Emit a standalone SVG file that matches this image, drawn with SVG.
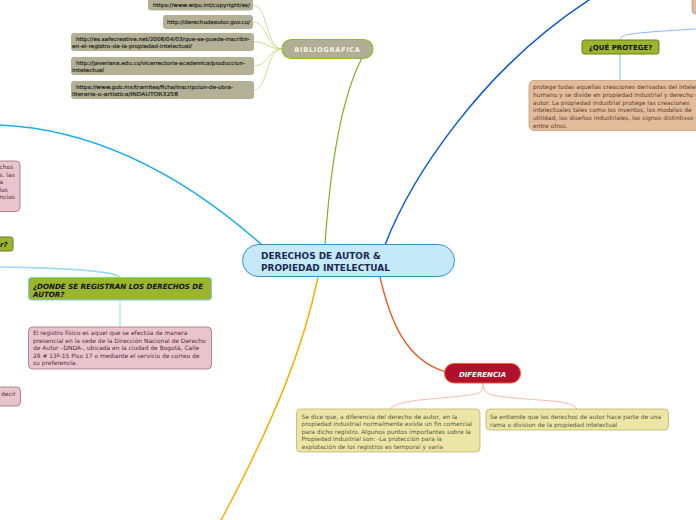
<svg xmlns="http://www.w3.org/2000/svg" width="696" height="520" viewBox="0 0 696 520">
<style>
  .f { font-family: "DejaVu Sans", Verdana, sans-serif; }
  .link rect { fill: #b3b096; }
  .link text { font-size: 5.3px; font-weight: normal; fill: #222219; stroke: #222219; stroke-width: 0.15; }
  .olive { fill: #9bb52c; stroke: #6b7d1c; stroke-width: 1; }
  .pink rect { fill: #e8c5cc; stroke: #a46b7a; stroke-width: 0.8; }
  .pink text { fill: #5a2c3c; font-size: 5.95px; stroke: none; }
  .yel { fill: #ebe5a6; stroke: #bdb56c; stroke-width: 0.8; }
  .ytext { fill: #5c5a36; font-size: 5.95px; }
  .conn path { fill: none; }
</style>
<rect width="696" height="520" fill="#ffffff"/>

<g id="connectors" class="conn">
  <path d="M325,245 C330,170 340,100 362,58" stroke="#7fb21e" stroke-width="1.2"/>
  <path d="M385,245 C410,180 480,70 592,-2" stroke="#0b5cd2" stroke-width="1.5"/>
  <path d="M262,245 C200,190 110,130 0,125" stroke="#1aaef0" stroke-width="1.5"/>
  <path d="M318,277 C305,340 280,410 220,522" stroke="#ffad00" stroke-width="1.5"/>
  <path d="M380,277 C390,320 405,360 446,372" stroke="#f0541e" stroke-width="1.3"/>
  <g stroke="#bcd97e" stroke-width="0.8">
    <path d="M282,49 C266,49 268,5 253,5"/>
    <path d="M282,49 C266,49 268,22 253,22"/>
    <path d="M282,49 C268,49 268,42 254,42"/>
    <path d="M282,49 C268,49 268,66 254,66"/>
    <path d="M282,49 C266,49 268,90 254,90"/>
  </g>
  <path d="M620,40 C620,34 630,33 696,29" stroke="#8db6ea" stroke-width="1"/>
  <path d="M620,54 L620,80" stroke="#8db6ea" stroke-width="1"/>
  <path d="M0,267 C60,268 110,270 120,277" stroke="#9bd9f2" stroke-width="1.4"/>
  <path d="M120,300 L120,327" stroke="#9bd9f2" stroke-width="1"/>
  <path d="M483,383 C483,390 482,392 476,394 C440,400 400,398 390,409" stroke="#f7a88e" stroke-width="0.8"/>
  <path d="M483,383 C483,390 486,393 492,395 C530,402 570,398 577,409" stroke="#f7a88e" stroke-width="0.8"/>
</g>

<g id="central" class="f">
  <rect x="242.5" y="244.5" width="212" height="32" rx="16" fill="#c6e9fa" stroke="#2f8fd3" stroke-width="1"/>
  <text x="261" y="259" font-size="8.95" font-weight="bold" fill="#1b2a52">DERECHOS DE AUTOR &amp;</text>
  <text x="261" y="270.5" font-size="8.95" font-weight="bold" fill="#1b2a52">PROPIEDAD INTELECTUAL</text>
</g>

<g id="bibliografica" class="f">
  <rect x="282" y="39.5" width="91" height="19" rx="9.5" fill="#b1ae95" stroke="#8dbb2c" stroke-width="1.2"/>
  <text x="327.5" y="52" font-size="6.6" font-weight="bold" fill="#f4f3e6" text-anchor="middle" letter-spacing="0.7">BIBLIOGRÁFICA</text>
</g>

<g id="link1" class="f link">
  <rect x="148" y="-5" width="105" height="15.5" rx="3"/>
  <text x="153" y="7" textLength="97" lengthAdjust="spacingAndGlyphs">https://www.wipo.int/copyright/es/</text>
</g>
<g id="link2" class="f link">
  <rect x="163" y="15" width="90" height="14" rx="3"/>
  <text x="167" y="24" textLength="83" lengthAdjust="spacingAndGlyphs">http://derechodeautor.gov.co/</text>
</g>
<g id="link3" class="f link">
  <rect x="71" y="33" width="183" height="18" rx="3"/>
  <text x="76" y="41" textLength="174" lengthAdjust="spacingAndGlyphs">http://es.safecreative.net/2008/04/03/que-se-puede-inscribir-</text>
  <text x="72" y="48" textLength="120" lengthAdjust="spacingAndGlyphs">en-el-registro-de-la-propiedad-intelectual/</text>
</g>
<g id="link4" class="f link">
  <rect x="71" y="57" width="183" height="18" rx="3"/>
  <text x="76" y="65" textLength="169" lengthAdjust="spacingAndGlyphs">http://javeriana.edu.co/vicerrectoria-academica/produccion-</text>
  <text x="72" y="72" textLength="32" lengthAdjust="spacingAndGlyphs">intelectual</text>
</g>
<g id="link5" class="f link">
  <rect x="71" y="81" width="183" height="18" rx="3"/>
  <text x="76" y="89" textLength="157" lengthAdjust="spacingAndGlyphs">https://www.gob.mx/tramites/ficha/inscripcion-de-obra-</text>
  <text x="72" y="96" textLength="106" lengthAdjust="spacingAndGlyphs">literaria-o-artistica/INDAUTOR3258</text>
</g>

<g id="topright-box">
  <rect x="692" y="-10" width="20" height="24" rx="4" fill="#e3bc9b" stroke="#c49a78" stroke-width="0.8"/>
</g>

<g id="que-protege" class="f">
  <rect x="582" y="40" width="77" height="14" rx="2.5" class="olive"/>
  <text x="620.5" y="50" font-size="7" font-weight="bold" fill="#111" text-anchor="middle">¿QUÉ PROTEGE?</text>
</g>

<g id="protege-desc" class="f">
  <rect x="529" y="80.5" width="180" height="50" rx="5" fill="#e3bc9b" stroke="#c49a78" stroke-width="0.8"/>
  <g fill="#5e3d2b" font-size="5.95">
    <text x="533" y="89">protege todas aquellas creaciones derivadas del intelecto</text>
    <text x="533" y="97">humano y se divide en propiedad industrial y derecho de</text>
    <text x="533" y="105">autor. La propiedad industrial protege las creaciones</text>
    <text x="533" y="112">intelectuales tales como los inventos, los modelos de</text>
    <text x="533" y="120">utilidad, los diseños industriales, los signos distintivos</text>
    <text x="533" y="127.5">entre otros.</text>
  </g>
</g>

<g id="left-pink-top" class="f pink">
  <rect x="-10" y="161" width="30" height="50.5" rx="4"/>
  <text x="-0.5" y="169">chos</text>
  <text x="-0.5" y="177">s. las</text>
  <text x="-0.5" y="184">a</text>
  <text x="-0.5" y="192">los</text>
  <text x="-0.5" y="199">ncios</text>
</g>

<g id="left-question" class="f">
  <rect x="-10" y="237" width="23" height="14" rx="2.5" class="olive"/>
  <text x="0" y="247" font-size="7" font-weight="bold" font-style="italic" fill="#111">r?</text>
</g>

<g id="donde" class="f">
  <rect x="28.5" y="277.5" width="183" height="22.5" rx="3" fill="#9bb52c" stroke="#7ccbe6" stroke-width="1"/>
  <text x="33" y="289" font-size="7.1" font-weight="bold" font-style="italic" fill="#111">¿DONDE SE REGISTRAN LOS DERECHOS DE</text>
  <text x="33" y="297" font-size="7.1" font-weight="bold" font-style="italic" fill="#111">AUTOR?</text>
</g>

<g id="donde-desc" class="f pink">
  <rect x="28.5" y="327" width="183" height="42" rx="4"/>
  <text x="33" y="334.5">El registro físico es aquel que se efectúa de manera</text>
  <text x="33" y="342.5">presencial en la sede de la Dirección Nacional de Derecho</text>
  <text x="33" y="350">de Autor –DNDA-, ubicada en la ciudad de Bogotá, Calle</text>
  <text x="33" y="358">28 # 13ª-15 Piso 17 o mediante el servicio de correo de</text>
  <text x="33" y="365">su preferencia.</text>
</g>

<g id="left-pink-bottom" class="f pink">
  <rect x="-10" y="387" width="30.5" height="19" rx="4"/>
  <text x="1" y="396">decir</text>
</g>

<g id="diferencia" class="f">
  <rect x="444.5" y="363.5" width="76" height="19.5" rx="9.5" fill="#b0102b" stroke="#f0602e" stroke-width="1"/>
  <text x="482.5" y="376.5" font-size="7" font-weight="bold" font-style="italic" fill="#ffffff" text-anchor="middle">DIFERENCIA</text>
</g>

<g id="dif-left" class="f">
  <rect x="296.5" y="409" width="183.5" height="43" rx="4" class="yel"/>
  <g class="ytext">
    <text x="301.5" y="418.5">Se dice que, a diferencia del derecho de autor, en la</text>
    <text x="301.5" y="426">propiedad industrial normalmente existe un fin comercial</text>
    <text x="301.5" y="433.5">para dicho registro. Algunos puntos importantes sobre la</text>
    <text x="301.5" y="441">Propiedad Industrial son:  -La protección para la</text>
    <text x="301.5" y="449">explotación de los registros es temporal y varía</text>
  </g>
</g>

<g id="dif-right" class="f">
  <rect x="486" y="409" width="182.5" height="21" rx="4" class="yel"/>
  <g class="ytext">
    <text x="490" y="419">Se entiende que los derechos de autor hace parte de una</text>
    <text x="490" y="426.5">rama o division de la propiedad intelectual</text>
  </g>
</g>
</svg>
